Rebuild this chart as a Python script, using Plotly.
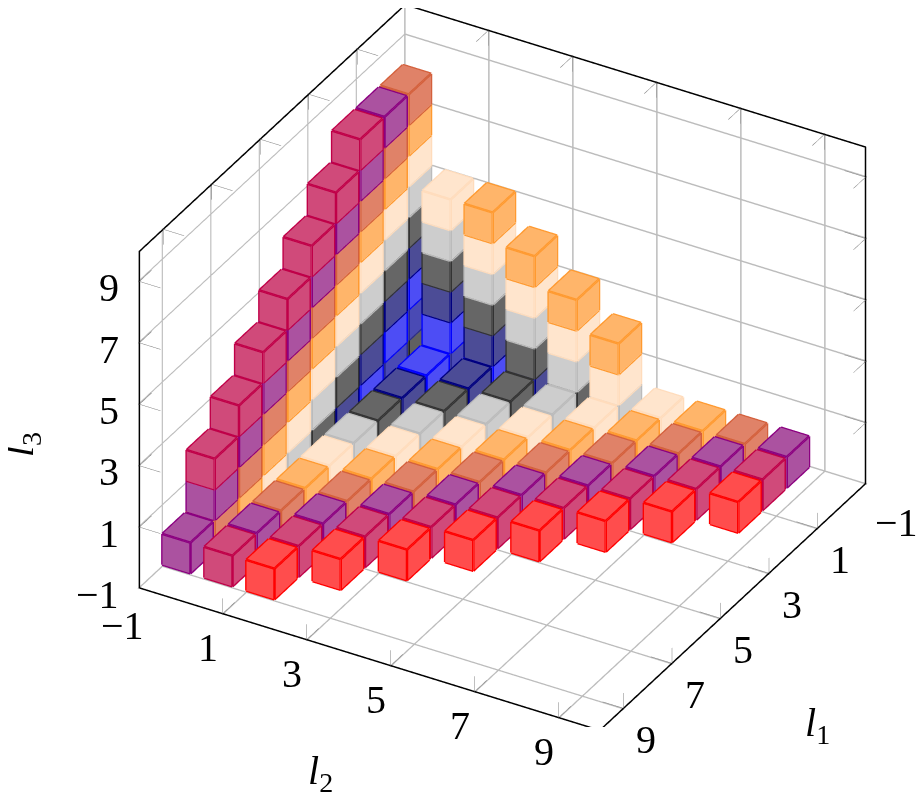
import math
import plotly.graph_objects as go

# axis ticks, the box runs from AXIS_MIN to AXIS_MAX on all three axes
TICKS = [-1, 1, 3, 5, 7, 9]
TICK_TEXT = ["\u22121", "1", "3", "5", "7", "9"]
AXIS_MIN = -1
AXIS_MAX = 10

# highest l1 on the floor (l3=0) for l2 = 0..9
FLOOR_MAX_L1 = [9, 9, 9, 8, 7, 6, 5, 4, 3, 2]
# highest l3 on the wall l2=0 for l1 = 0..9
WALL_L2_TOP = [8, 8, 8, 7, 6, 5, 4, 3, 2, 0]
# highest l3 on the wall l1=0 for l2 = 0..9
WALL_L1_TOP = [8, 5, 5, 4, 3, 2, 0, 0, 0, 0]

# colours by l1+l2+l3
FILL = ["#606060", "#4a4ab4", "#4d4df5", "#4c4c96", "#666666", "#cdcdcd",
        "#ffe5cd", "#ffb56a", "#e08268", "#ab52a0", "#d04a7a", "#ff4d4d"]
EDGE = ["#202020", "#2a2a90", "#0000ff", "#000080", "#333333", "#bbbbbb",
        "#ffdcbc", "#ff9a30", "#d4603c", "#8b0080", "#c00048", "#ff0000"]

# cube size in axis units and how far it sits from the integer in l2
SIZE_L1, SIZE_L2, SIZE_L3 = 0.92, 0.67, 1.0
SHIFT_L2 = -0.4

cubes = set()
for l2, top in enumerate(FLOOR_MAX_L1):
    for l1 in range(top + 1):
        cubes.add((l1, l2, 0))
for l1, top in enumerate(WALL_L2_TOP):
    for l3 in range(top + 1):
        cubes.add((l1, 0, l3))
for l2, top in enumerate(WALL_L1_TOP):
    for l3 in range(top + 1):
        cubes.add((0, l2, l3))

fig = go.Figure()

for level in range(len(FILL)):
    vx, vy, vz, ti, tj, tk = [], [], [], [], [], []
    ex, ey, ez = [], [], []
    for l1, l2, l3 in sorted(c for c in cubes if sum(c) == level):
        x0, x1 = l1 - SIZE_L1 / 2, l1 + SIZE_L1 / 2
        y0, y1 = l2 + SHIFT_L2 - SIZE_L2 / 2, l2 + SHIFT_L2 + SIZE_L2 / 2
        z0, z1 = l3 - SIZE_L3 / 2, l3 + SIZE_L3 / 2
        # only the three faces the camera sees
        faces = [
            [(x1, y0, z0), (x1, y1, z0), (x1, y1, z1), (x1, y0, z1)],
            [(x0, y1, z0), (x1, y1, z0), (x1, y1, z1), (x0, y1, z1)],
            [(x0, y0, z1), (x1, y0, z1), (x1, y1, z1), (x0, y1, z1)],
        ]
        for face in faces:
            n = len(vx)
            for p in face:
                vx.append(p[0]); vy.append(p[1]); vz.append(p[2])
            ti += [n, n]; tj += [n + 1, n + 2]; tk += [n + 2, n + 3]
            for a, b in zip(face, face[1:] + face[:1]):
                ex += [a[0], b[0], None]
                ey += [a[1], b[1], None]
                ez += [a[2], b[2], None]
    fig.add_trace(go.Mesh3d(
        x=vx, y=vy, z=vz, i=ti, j=tj, k=tk, color=FILL[level], opacity=1,
        flatshading=True, hoverinfo="skip", showscale=False,
        lighting=dict(ambient=1, diffuse=0, specular=0, fresnel=0, roughness=1),
    ))
    fig.add_trace(go.Scatter3d(
        x=ex, y=ey, z=ez, mode="lines", hoverinfo="skip", showlegend=False,
        line=dict(color=EDGE[level], width=5),
    ))

# little ticks on the six outer edges, kept just inside the box so they are not clipped
TICK_LEN = 0.5
INSET = 0.02
lo, hi = AXIS_MIN + INSET, AXIS_MAX - INSET
tx, ty, tz = [], [], []
def add_tick(p, d):
    q = [p[i] + d[i] * TICK_LEN for i in range(3)]
    tx.extend([p[0], q[0], None]); ty.extend([p[1], q[1], None]); tz.extend([p[2], q[2], None])

for t in TICKS[1:]:
    add_tick((lo, t, hi), (1, 0, 0)); add_tick((lo, t, hi), (0, 0, -1))
    add_tick((hi, t, lo), (-1, 0, 0)); add_tick((hi, t, lo), (0, 0, 1))
    add_tick((t, lo, hi), (0, 1, 0)); add_tick((t, lo, hi), (0, 0, -1))
    add_tick((t, hi, lo), (0, -1, 0)); add_tick((t, hi, lo), (0, 0, 1))
    add_tick((hi, lo, t), (0, 1, 0)); add_tick((hi, lo, t), (-1, 0, 0))
    add_tick((lo, hi, t), (1, 0, 0)); add_tick((lo, hi, t), (0, -1, 0))
fig.add_trace(go.Scatter3d(x=tx, y=ty, z=tz, mode="lines", hoverinfo="skip", showlegend=False,
                           line=dict(color="#808080", width=1)))

# black outline of the box
outline = [(hi, lo, lo), (hi, hi, lo), (lo, hi, lo), (lo, hi, hi), (lo, lo, hi), (hi, lo, hi), (hi, lo, lo)]
fig.add_trace(go.Scatter3d(
    x=[p[0] for p in outline], y=[p[1] for p in outline], z=[p[2] for p in outline],
    mode="lines", hoverinfo="skip", showlegend=False, line=dict(color="black", width=3),
))

LABEL_FONT = dict(family="Liberation Serif", size=40, color="black")
notes = []
for t, s in zip(TICKS, TICK_TEXT):
    is_min = t == AXIS_MIN
    notes.append(dict(x=AXIS_MAX, y=AXIS_MIN, z=t, text=s, showarrow=False, font=LABEL_FONT,
                      xanchor="right", xshift=-17, yshift=-6))
    notes.append(dict(x=AXIS_MAX, y=t, z=AXIS_MIN, text=s, showarrow=False, font=LABEL_FONT,
                      xshift=-16 if is_min else -14, yshift=-37 if is_min else -33))
    notes.append(dict(x=t, y=AXIS_MAX, z=AXIS_MIN, text=s, showarrow=False, font=LABEL_FONT,
                      xshift=30 if is_min else 22, yshift=-38 if is_min else -30))

axis = dict(range=[AXIS_MIN, AXIS_MAX], tickvals=TICKS, showticklabels=False, title="",
            showgrid=True, gridcolor="#bcbcbc", gridwidth=3, zeroline=False, showline=False,
            showbackground=False, showspikes=False, ticks="")

az = math.radians(30)
el = math.radians(32.4)
EYE_DIST = 6
BOX = 1.484   # orthographic zoom goes through the aspect ratio
W, H = 916, 788   # the page keeps an 8px body margin
fig.update_layout(
    width=W, height=H, margin=dict(l=0, r=0, t=0, b=0), paper_bgcolor="white",
    showlegend=False,
    scene=dict(
        domain=dict(x=[0.0797, 1], y=[0.0876, 1]),
        xaxis=axis, yaxis=axis, zaxis=axis,
        aspectmode="manual", aspectratio=dict(x=BOX, y=BOX, z=0.75 * BOX),
        camera=dict(
            projection=dict(type="orthographic"), up=dict(x=0, y=0, z=1),
            eye=dict(x=EYE_DIST * math.cos(el) * math.cos(az),
                     y=EYE_DIST * math.cos(el) * math.sin(az),
                     z=EYE_DIST * math.sin(el)),
        ),
        annotations=notes,
    ),
    annotations=[
        dict(x=(817 - 8) / W, y=1 - (725 - 8) / H, xref="paper", yref="paper", showarrow=False,
             xanchor="center", yanchor="middle", text="<i>l</i><sub>1</sub>", font=LABEL_FONT),
        dict(x=(320 - 8) / W, y=1 - (773 - 8) / H, xref="paper", yref="paper", showarrow=False,
             xanchor="center", yanchor="middle", text="<i>l</i><sub>2</sub>", font=LABEL_FONT),
        dict(x=(22 - 8) / W, y=1 - (445 - 8) / H, xref="paper", yref="paper", showarrow=False,
             xanchor="center", yanchor="middle", text="<i>l</i><sub>3</sub>", font=LABEL_FONT,
             textangle=-90),
    ],
)

fig.write_html("out.html")
